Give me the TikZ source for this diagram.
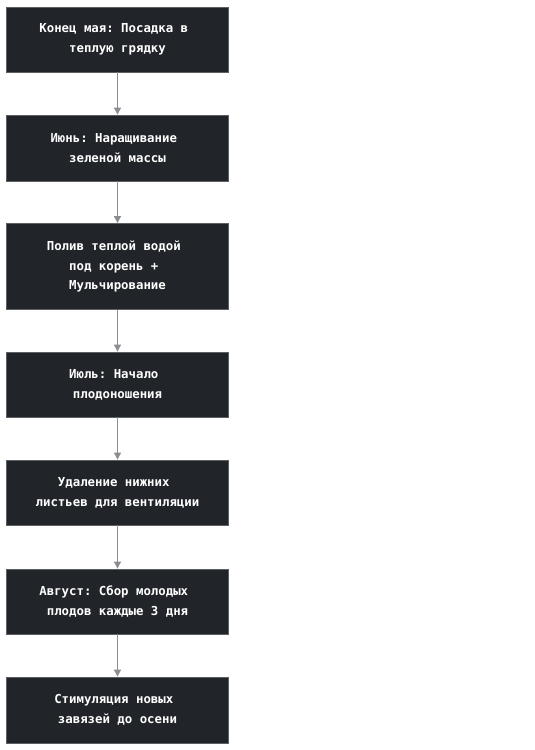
\documentclass[tikz,border=0pt]{standalone}
\usepackage{fontspec}
\setmonofont{DejaVu Sans Mono}
\usetikzlibrary{arrows.meta}
\definecolor{boxfill}{HTML}{212429}
\definecolor{boxline}{HTML}{5C5F63}
\definecolor{arrowc}{HTML}{8A8D91}
\newcommand{\tsp}{\hphantom{a}}
\begin{document}
\begin{tikzpicture}[x=1bp,y=-1bp,
  stepbox/.style={draw=boxline,line width=0.8bp,fill=boxfill,text=white,
    minimum width=222bp,inner sep=0pt,align=center,
    font=\ttfamily\bfseries\fontsize{12.4}{20}\selectfont},
  conn/.style={draw=arrowc,line width=0.9bp,-{Triangle[length=7bp,width=7bp]}}]
\useasboundingbox (0,0) rectangle (535,750);
\node[stepbox,minimum height=65bp] (a) at (117.5,39.5) {Конец мая: Посадка в\tsp\\теплую грядку};
\node[stepbox,minimum height=66bp] (b) at (117.5,148) {Июнь: Наращивание\tsp\\зеленой массы};
\node[stepbox,minimum height=86bp] (c) at (117.5,266.5) {Полив теплой водой\tsp\\под корень +\tsp\\Мульчирование};
\node[stepbox,minimum height=65bp] (d) at (117.5,384.5) {Июль: Начало\tsp\\плодоношения};
\node[stepbox,minimum height=65bp] (e) at (117.5,492.5) {Удаление нижних\tsp\\листьев для вентиляции};
\node[stepbox,minimum height=65bp] (f) at (117.5,601.5) {Август: Сбор молодых\tsp\\плодов каждые 3 дня};
\node[stepbox,minimum height=66bp] (g) at (117.5,710) {Стимуляция новых\tsp\\завязей до осени};
\draw[conn] (a) -- (b);
\draw[conn] (b) -- (c);
\draw[conn] (c) -- (d);
\draw[conn] (d) -- (e);
\draw[conn] (e) -- (f);
\draw[conn] (f) -- (g);
\end{tikzpicture}
\end{document}
